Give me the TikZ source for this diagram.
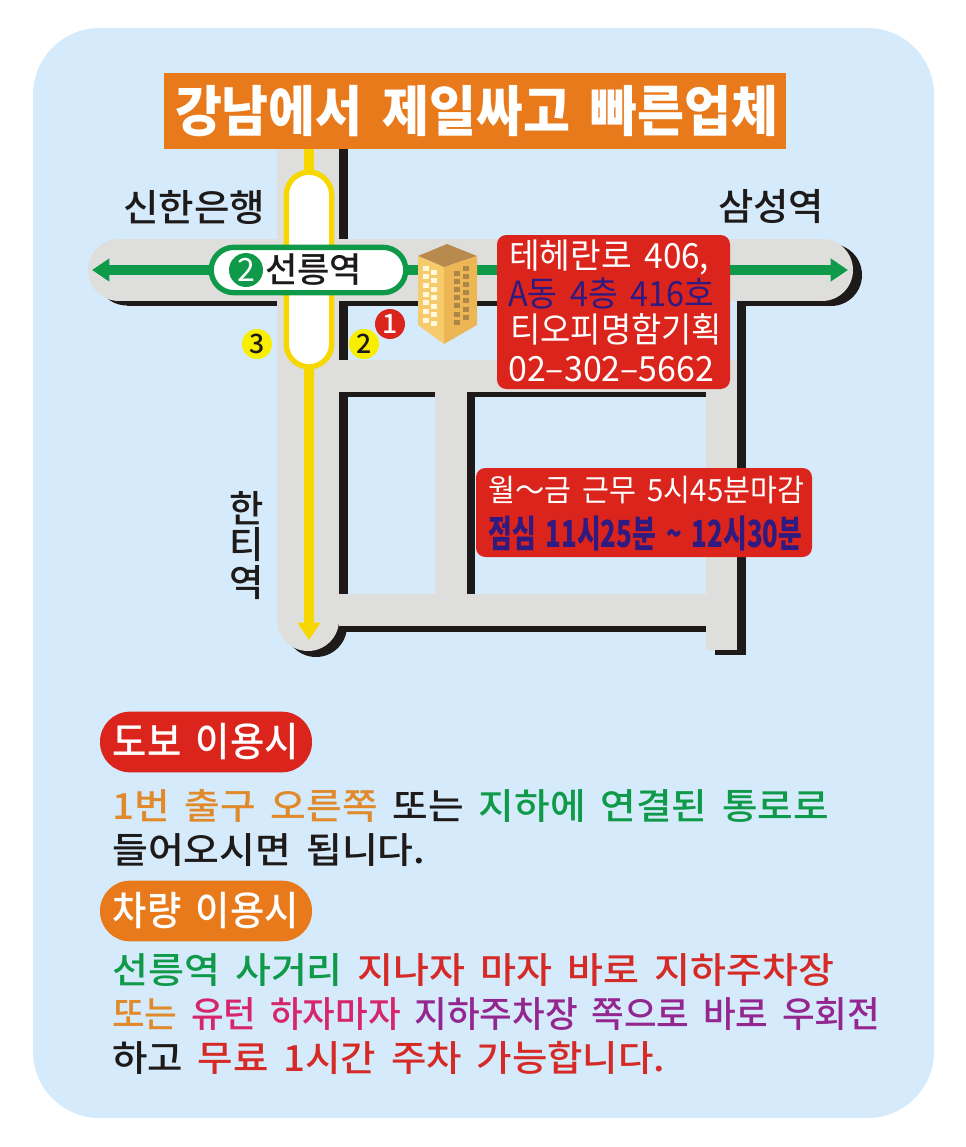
\documentclass[tikz,border=0pt]{standalone}
\usepackage{fontspec}
\usepackage{graphicx}
\usepackage{xcolor}
\usetikzlibrary{arrows.meta}
\setmainfont{Noto Sans CJK KR}[WordSpace=1.7]
\newfontfamily\krmedium{Noto Sans CJK KR Medium}[WordSpace=1.7]

\definecolor{skyblue}{HTML}{D5EAFA}
\definecolor{roadgray}{HTML}{DEDEDC}
\definecolor{roadblack}{HTML}{1E1A1A}
\definecolor{boxred}{HTML}{DB241B}
\definecolor{boxorange}{HTML}{E87A1B}
\definecolor{linegreen}{HTML}{0F9A4A}
\definecolor{lineyellow}{HTML}{F6D800}
\definecolor{spotyellow}{HTML}{F8EE00}
\definecolor{navytext}{HTML}{2E1A80}
\definecolor{softorange}{HTML}{E08A2C}
\definecolor{pinktext}{HTML}{D6256B}
\definecolor{purpletext}{HTML}{93278F}
\definecolor{redtext}{HTML}{D62A26}
\definecolor{roofbrown}{HTML}{B98A4E}
\definecolor{wallleft}{HTML}{F5CB6C}
\definecolor{wallright}{HTML}{EDB655}
\definecolor{windowlit}{HTML}{FFF8DC}
\definecolor{windowdark}{HTML}{AD8547}

\newlength\pxunit
\setlength\pxunit{0.75pt}
\newcommand{\fitline}[2]{\resizebox{#1\pxunit}{\height}{#2}}

\begin{document}
\begin{tikzpicture}[
  x=0.75pt, y=-0.75pt,
  line/.style={inner sep=0pt, anchor=west, font=\krmedium\fontsize{27}{27}\selectfont},
  infoline/.style={inner sep=0pt, anchor=west, font=\fontsize{26}{26}\selectfont},
  place/.style={inner sep=0pt, font=\krmedium\fontsize{28}{28}\selectfont, text=roadblack},
  pill/.style={rounded corners=22.5pt, minimum width=159pt, minimum height=45.5pt, inner sep=0pt,
    text=white, font=\krmedium\fontsize{30}{30}\selectfont},
  spot/.style={circle, minimum size=22.5pt, inner sep=0pt, font=\krmedium\fontsize{20}{20}\selectfont},
  infobox/.style={fill=boxred, rounded corners=7pt}
]

\useasboundingbox (0,0) rectangle (966,1147);
\fill[white] (0,0) rectangle (966,1147);
\fill[skyblue, rounded corners=50pt] (33,28) rectangle (934,1118);

\fill[roadblack] (127,274.5) circle[radius=31];
\fill[roadblack] (831,275) circle[radius=31];
\fill[roadblack] (316,626) circle[radius=31];
\foreach \xa/\ya/\xb/\yb in {
  339/149/348/239, 127/301/278/305.5, 339/301/500/306, 339/301/348/360,
  737/301/831/306, 737/301/746/655, 715/650/746/655,
  339/392/435/397, 339/392/348/594, 467/392/706/397, 467/392/475/594,
  316/626/706/632}
  \fill[roadblack] (\xa,\ya) rectangle (\xb,\yb);

\fill[roadgray] (119,270) circle[radius=31];
\fill[roadgray] (822,270) circle[radius=31];
\fill[roadgray] (308,620) circle[radius=31];
\foreach \xa/\ya/\xb/\yb in {
  119/239/822/301, 277/149/339/620, 339/360/737/392, 706/360/737/650,
  339/594/706/626, 435/392/467/594}
  \fill[roadgray] (\xa,\ya) rectangle (\xb,\yb);

\coordinate (lineTop) at (309,149);
\coordinate (lineEnd) at (309,640);
\coordinate (westEnd) at (92,270);
\coordinate (eastEnd) at (848,270);

\draw[lineyellow, line width=7.5pt, -{Triangle[length=13pt, width=16.5pt]}] (lineTop) -- (lineEnd);
\draw[linegreen, line width=8pt, -{Triangle[length=13pt, width=16.5pt]}] (309,270) -- (westEnd);
\draw[linegreen, line width=8pt, -{Triangle[length=13pt, width=16.5pt]}] (309,270) -- (eastEnd);

\node[draw=lineyellow, fill=white, line width=4pt, rounded corners=17pt,
  minimum width=34pt, minimum height=146pt, inner sep=0pt] (transfer) at (309,269.5) {};
\node[draw=linegreen, fill=white, line width=4pt, rounded corners=17pt,
  minimum width=146pt, minimum height=34pt, inner sep=0pt] (station) at (308.5,270) {};
\node[circle, fill=linegreen, text=white, minimum size=25.5pt, inner sep=0pt,
  font=\fontsize{24}{24}\selectfont] (lineno) at (246,270) {2};
\node[place, font=\krmedium\fontsize{26}{26}\selectfont] (stationname) at (313.5,270) {\fitline{97}{선릉역}};

\node[place] (bank) at (194,207) {\fitline{142}{신한은행}};
\node[place] (samseong) at (771,207) {\fitline{106}{삼성역}};
\node[place] (hanti1) at (247,508) {한};
\node[place] (hanti2) at (247,545) {티};
\node[place] (hanti3) at (247,583) {역};

\node[spot, fill=boxred, text=white] (exit1) at (390,324) {1};
\node[spot, fill=spotyellow, text=roadblack] (exit2) at (364,344) {2};
\node[spot, fill=spotyellow, text=roadblack] (exit3) at (257,344) {3};

\fill[roofbrown] (447,244) -- (477,256) -- (444,267) -- (418,256) -- cycle;
\fill[wallleft] (418,256) -- (444,267) -- (444,344) -- (418,325) -- cycle;
\fill[wallright] (444,267) -- (477,256) -- (477,325) -- (444,344) -- cycle;
\foreach \row in {0,...,6} {
  \fill[windowlit] ({426-3},{268+\row*8.7-2.5}) rectangle ++(6,5);
  \fill[windowlit] ({434-3},{272+\row*8.5-2.5}) rectangle ++(6,5);
  \fill[windowdark] ({457-3},{273+\row*8.2-2.5}) rectangle ++(6,5);
  \fill[windowdark] ({466-3},{268+\row*8.2-2.5}) rectangle ++(6,5);
}

\node[fill=boxorange, minimum width=466.5pt, minimum height=57pt, inner sep=0pt] (titlebox) at (475,111) {};
\node[text=white, inner sep=0pt, font=\bfseries\fontsize{41}{41}\selectfont] (title) at (476.5,111) {\fitline{603}{강남에서 제일싸고 빠른업체}};

\fill[infobox] (497,235) rectangle (730,389);
\node[infoline, text=white] (addr1) at (509,257) {\fitline{200}{테헤란로 406,}};
\node[infoline, text=navytext] (addr2) at (508,293) {\fitline{206}{A동 4층 416호}};
\node[infoline, text=white] (addr3) at (510,329) {\fitline{212}{티오피명함기획}};
\node[infoline, text=white] (addr4) at (508,369) {\fitline{206}{02–302–5662}};

\fill[infobox] (476,468) rectangle (812,557);
\node[infoline, text=white, font=\fontsize{23}{23}\selectfont] (hours) at (488,490) {\fitline{316}{월～금 근무 5시45분마감}};
\node[infoline, text=navytext, font=\bfseries\fontsize{28}{28}\selectfont] (lunch) at (488,534) {\fitline{314}{점심 11시25분 \textasciitilde\ 12시30분}};

\node[pill, fill=boxred] (walkpill) at (206,742) {\fitline{186}{도보 이용시}};
\node[line] (walk1) at (112,806) {\fitline{717}{\textcolor{softorange}{1번 출구 오른쪽} \textcolor{roadblack}{또는} \textcolor{linegreen}{지하에 연결된 통로로}}};
\node[line, text=roadblack] (walk2) at (112,850) {\fitline{313}{들어오시면 됩니다.}};

\node[pill, fill=boxorange] (carpill) at (206,911) {\fitline{186}{차량 이용시}};
\node[line] (car1) at (112,970) {\fitline{722}{\textcolor{linegreen}{선릉역 사거리} \textcolor{redtext}{지나자 마자 바로 지하주차장}}};
\node[line] (car2) at (112,1014) {\fitline{768}{\textcolor{softorange}{또는} \textcolor{pinktext}{유턴 하자마자} \textcolor{purpletext}{지하주차장 쪽으로 바로 우회전}}};
\node[line] (car3) at (112,1058) {\fitline{553}{\textcolor{roadblack}{하고} \textcolor{redtext}{무료 1시간 주차 가능합니다.}}};

\end{tikzpicture}
\end{document}
